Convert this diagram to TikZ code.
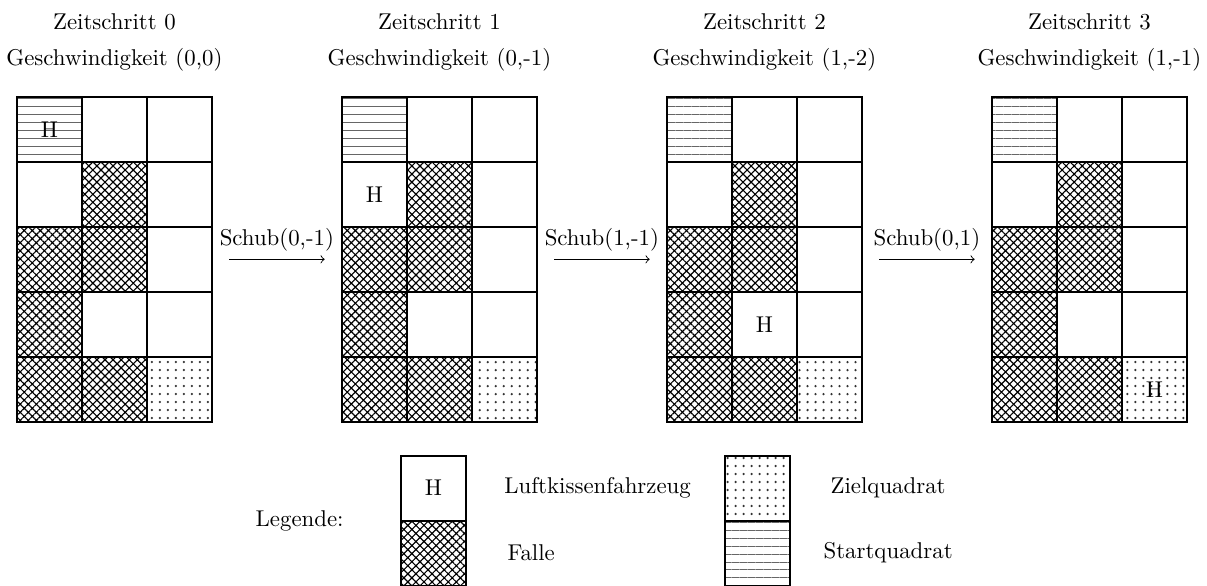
\documentclass[tikz,border=0pt]{standalone}
\usetikzlibrary{positioning,patterns.meta}

\begin{document}
\begin{tikzpicture}[
    x=1cm, y=1cm,
    >=to,
    freecell/.style={
        draw,
        thick,
        minimum size=1cm,
        inner sep=0pt
    },
    trapcell/.style={
        freecell,
        pattern={Hatch[angle=45, distance=2.5pt, line width=0.5pt]}
    },
    goalcell/.style={
        freecell,
        pattern={Dots[distance=3.5pt, radius=0.55pt]},
        pattern color=black!80
    },
    startcell/.style={
        freecell,
        pattern={Lines[distance=3.5pt, line width=0.4pt]},
        pattern color=black!60
    },
    arr/.style={->}
]
    \useasboundingbox (-0.26,1.49) rectangle (18.31,-7.525);

    % Grids for the four time steps
    \foreach \k/\hr/\hc/\vel in {0/1/1/{(0,0)}, 1/2/1/{(0,-1)}, 2/4/2/{(1,-2)}, 3/5/3/{(1,-1)}} {
        \foreach \r/\row in {1/{startcell,freecell,freecell},
                             2/{freecell,trapcell,freecell},
                             3/{trapcell,trapcell,freecell},
                             4/{trapcell,freecell,freecell},
                             5/{trapcell,trapcell,goalcell}} {
            \foreach \kind [count=\c] in \row {
                \node[\kind] (g\k-\r-\c) at (5*\k+\c-0.5, 0.5-\r) {};
            }
        }
        \node (h\k) at (g\k-\hr-\hc) {H};
        \node[anchor=base] (t\k) at (5*\k+1.5, 1.03) {Zeitschritt \k};
        \node[anchor=base] (v\k) at (5*\k+1.5, 0.48) {Geschwindigkeit \vel};
    }

    % Thrust between the steps
    \draw[arr] ([xshift=0.25cm]g0-3-3.east) -- node[above] {Schub(0,-1)} ([xshift=-0.25cm]g1-3-1.west);
    \draw[arr] ([xshift=0.25cm]g1-3-3.east) -- node[above] {Schub(1,-1)} ([xshift=-0.25cm]g2-3-1.west);
    \draw[arr] ([xshift=0.25cm]g2-3-3.east) -- node[above] {Schub(0,1)} ([xshift=-0.25cm]g3-3-1.west);

    % Legend
    \node (legTitle) at (4.35,-6.52) {Legende:};

    \node[freecell] (legH) at (6.41,-6.02) {H};
    \node[trapcell] (legTrap) at (6.41,-7.02) {};
    \node[right=0.45cm of legH] (lblH) {Luftkissenfahrzeug};
    \node[right=0.5cm of legTrap] (lblTrap) {Falle};

    \node[goalcell] (legGoal) at (11.39,-6.02) {};
    \node[startcell] (legStart) at (11.39,-7.02) {};
    \node (lblGoal) at ([xshift=1.5cm]legGoal.east) {Zielquadrat};
    \node (lblStart) at ([xshift=1.5cm]legStart.east) {Startquadrat};

\end{tikzpicture}
\end{document}
